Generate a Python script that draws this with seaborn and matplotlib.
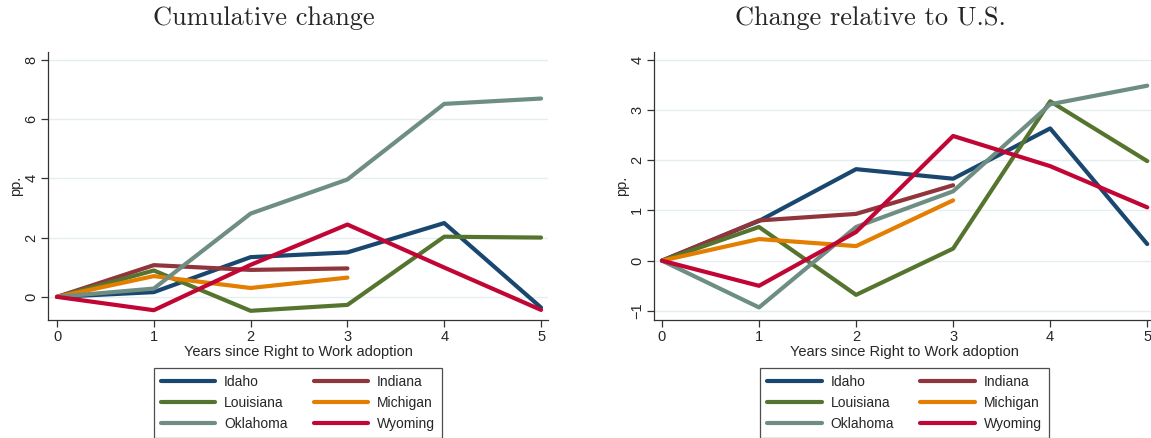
import numpy as np
import pandas as pd
import matplotlib
matplotlib.use("Agg")
import matplotlib.pyplot as plt
import seaborn as sns
from matplotlib.lines import Line2D

years = [0, 1, 2, 3, 4, 5]
states = ["Idaho", "Indiana", "Louisiana", "Michigan", "Oklahoma", "Wyoming"]

# Cumulative change in union membership (pp.)
cum_idaho = [0, 0.16, 1.34, 1.50, 2.49, -0.36]
cum_indiana = [0, 1.07, 0.91, 0.96, np.nan, np.nan]
cum_louisiana = [0, 0.89, -0.47, -0.27, 2.03, 2.00]
cum_michigan = [0, 0.70, 0.30, 0.65, np.nan, np.nan]
cum_oklahoma = [0, 0.28, 2.81, 3.96, 6.51, 6.69]
cum_wyoming = [0, -0.45, 1.08, 2.44, 0.99, -0.44]

# Change relative to the U.S. (pp.)
rel_idaho = [0, 0.79, 1.82, 1.63, 2.63, 0.33]
rel_indiana = [0, 0.80, 0.93, 1.50, np.nan, np.nan]
rel_louisiana = [0, 0.67, -0.68, 0.24, 3.17, 1.98]
rel_michigan = [0, 0.43, 0.29, 1.20, np.nan, np.nan]
rel_oklahoma = [0, -0.93, 0.67, 1.38, 3.11, 3.48]
rel_wyoming = [0, -0.50, 0.57, 2.48, 1.88, 1.06]

colors = {
    "Idaho": "#1a476f",
    "Indiana": "#90353b",
    "Louisiana": "#55752f",
    "Michigan": "#e37e00",
    "Oklahoma": "#6e8e84",
    "Wyoming": "#c10534",
}


def long_frame(series):
    rows = []
    for st, vals in zip(states, series):
        for yr, v in zip(years, vals):
            rows.append({"year": yr, "value": v, "state": st})
    return pd.DataFrame(rows).dropna()


df_cum = long_frame([cum_idaho, cum_indiana, cum_louisiana, cum_michigan, cum_oklahoma, cum_wyoming])
df_rel = long_frame([rel_idaho, rel_indiana, rel_louisiana, rel_michigan, rel_oklahoma, rel_wyoming])

sns.set_style("white")
plt.rcParams["font.family"] = ["Liberation Sans", "DejaVu Sans"]

W, H = 1151, 438
fig = plt.figure(figsize=(W / 100, H / 100), dpi=100)
ax1 = fig.add_axes([48 / W, 1 - 320 / H, 500 / W, 268 / H])
ax2 = fig.add_axes([654 / W, 1 - 320 / H, 501 / W, 268 / H])

panels = [
    (ax1, df_cum, "Cumulative change", 264, (-0.093, 5.072), (-0.78, 8.26), [0, 2, 4, 6, 8]),
    (ax2, df_rel, "Change relative to U.S.", 870, (-0.082, 5.08), (-1.18, 4.15), [-1, 0, 1, 2, 3, 4]),
]

legend_order = ["Idaho", "Louisiana", "Oklahoma", "Indiana", "Michigan", "Wyoming"]

for ax, df, title, tx, xl, yl, yt in panels:
    ax.set_yticks(yt)
    ax.yaxis.grid(True, color="#e4edf0", linewidth=1.0)
    ax.set_axisbelow(True)
    sns.lineplot(data=df, x="year", y="value", hue="state", hue_order=states,
                 palette=colors, linewidth=3.0, ax=ax, legend=False,
                 estimator=None, sort=True)
    ax.set_xlim(*xl)
    ax.set_ylim(*yl)
    ax.set_xticks(years)
    for side in ["top", "right"]:
        ax.spines[side].set_visible(False)
    for side in ["left", "bottom"]:
        ax.spines[side].set_color("#333333")
        ax.spines[side].set_linewidth(0.9)
    ax.tick_params(axis="both", direction="out", length=5, width=0.9,
                   color="#333333", labelsize=10.5, pad=2, bottom=True, left=True)
    ax.tick_params(axis="y", labelrotation=90)
    for lab in ax.get_yticklabels():
        lab.set_va("center")
    ax.set_xlabel("Years since Right to Work adoption", fontsize=10.5, labelpad=1)
    ax.set_ylabel("pp.", fontsize=10.5, labelpad=1)
    fig.text(tx / W, 1 - 25 / H, title, fontsize=19, family="cmr10",
             ha="center", va="baseline")

    handles = [Line2D([0], [0], color=colors[s], linewidth=3.0) for s in legend_order]
    leg = ax.legend(handles, legend_order, ncol=2, loc="upper center",
                    bbox_to_anchor=(0.5, -0.179), frameon=True, fancybox=False,
                    edgecolor="#222222", fontsize=10, handlelength=3.9,
                    columnspacing=1.9, handletextpad=0.65, labelspacing=0.5,
                    borderpad=0.5, borderaxespad=0)
    leg.get_frame().set_linewidth(0.9)

fig.savefig("out.png", dpi=100)
